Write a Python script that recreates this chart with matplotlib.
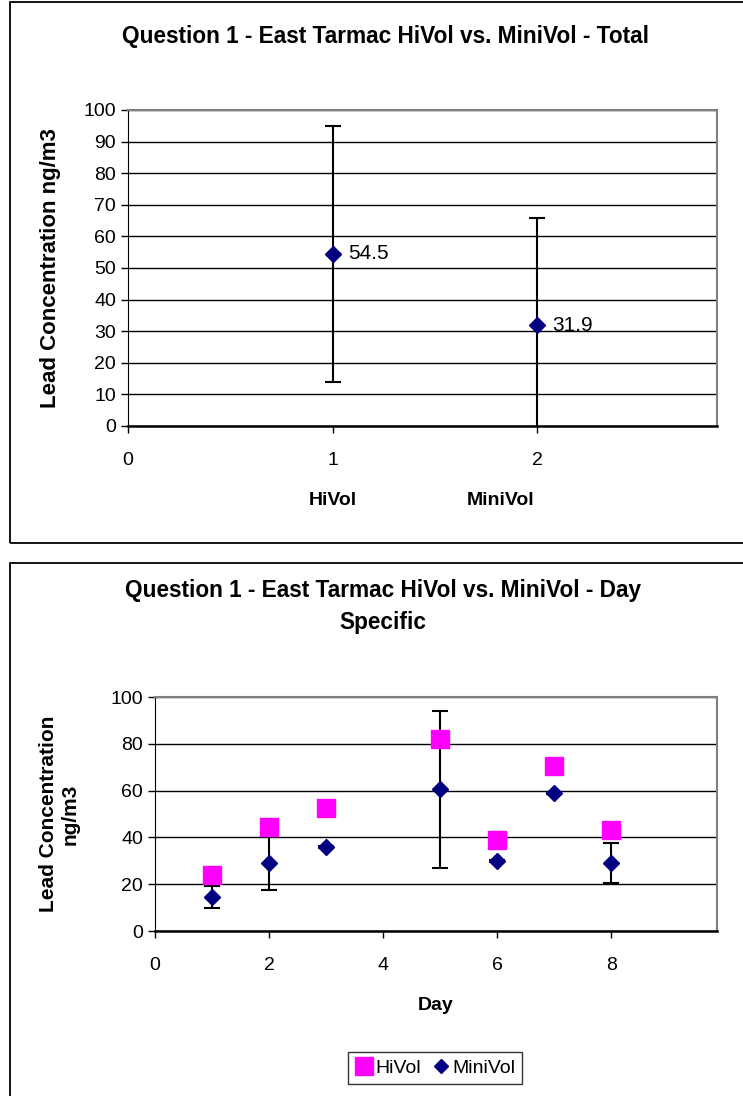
import matplotlib.pyplot as plt
from matplotlib.patches import Rectangle
from matplotlib.lines import Line2D

plt.rcParams['font.family'] = ['Liberation Sans', 'DejaVu Sans']

# top chart: totals
total_x = [1, 2]
total_mean = [54.5, 31.9]
total_err = [40.5, 34.0]
total_labels = ['54.5', '31.9']

# bottom chart: day specific
days = [1, 2, 3, 5, 6, 7, 8]
hivol = [24, 44.5, 52.5, 82, 39, 70.5, 43]
minivol = [14.5, 29, 36, 60.5, 30, 59, 29]
minivol_err = [4.7, 11.5, 0.4, 33.7, 0.3, 0.3, 8.5]

navy = '#000080'
magenta = '#FF00FF'
W, H = 743, 1096
fs = 14

fig = plt.figure(figsize=(W / 100, H / 100), dpi=100)

# chart frames
fig.patches.append(Rectangle((10 / W, 1 - 543 / H), 740 / W, 541 / H, transform=fig.transFigure,
                             fill=False, ec='black', lw=1.3))
fig.patches.append(Rectangle((10 / W, -0.01), 740 / W, (1096 - 563) / H + 0.01, transform=fig.transFigure,
                             fill=False, ec='black', lw=1.3))


def style_axes(ax):
    ax.grid(axis='y', color='black', lw=1)
    ax.set_axisbelow(True)
    for s in ['top', 'right']:
        ax.spines[s].set_color('#808080')
        ax.spines[s].set_linewidth(1.5)
    for s in ['left', 'bottom']:
        ax.spines[s].set_color('black')
    ax.spines['bottom'].set_linewidth(1.8)
    ax.tick_params(direction='out', length=5, labelsize=fs, width=1)


# ---- top chart ----
ax1 = fig.add_axes([128 / W, 1 - 426 / H, 589 / W, 316 / H])
ax1.errorbar(total_x, total_mean, yerr=total_err, fmt='D', color=navy, ms=8,
             ecolor='black', elinewidth=1.5, capsize=6, capthick=1.5, zorder=3)
for x, y, lab in zip(total_x, total_mean, total_labels):
    ax1.annotate(lab, (x, y), xytext=(11, 0), textcoords='offset points',
                 va='center', fontsize=15)
ax1.set_xlim(0, 2.88)
ax1.set_ylim(0, 100)
ax1.set_xticks([0, 1, 2])
ax1.set_yticks(range(0, 101, 10))
style_axes(ax1)
ax1.tick_params(axis='x', pad=14)
ax1.set_ylabel('Lead Concentration ng/m3', fontsize=16, fontweight='bold', labelpad=16)
ax1.text(1, -0.235, 'HiVol', transform=ax1.get_xaxis_transform(), ha='center', va='center',
         fontsize=fs, fontweight='bold')
ax1.text(1.82, -0.235, 'MiniVol', transform=ax1.get_xaxis_transform(), ha='center', va='center',
         fontsize=fs, fontweight='bold')
fig.text(385 / W, 1 - 37 / H, 'Question 1 - East Tarmac HiVol vs. MiniVol - Total',
         ha='center', va='center', fontsize=16.3, fontweight='bold')

# ---- bottom chart ----
ax2 = fig.add_axes([155 / W, 1 - 931 / H, 562 / W, 234 / H])
ax2.plot(days, hivol, 's', color=magenta, ms=13, zorder=4)
ax2.errorbar(days, minivol, yerr=minivol_err, fmt='D', color=navy, ms=8,
             ecolor='black', elinewidth=1.5, capsize=6, capthick=1.5, zorder=3)
ax2.set_xlim(0, 9.85)
ax2.set_ylim(0, 100)
ax2.set_xticks(range(0, 9, 2))
ax2.set_yticks(range(0, 101, 20))
style_axes(ax2)
ax2.tick_params(axis='x', pad=14)
ax2.set_ylabel('Lead Concentration\nng/m3', fontsize=15, fontweight='bold', labelpad=22)
ax2.set_xlabel('Day', fontsize=fs, fontweight='bold', labelpad=16)
fig.text(383 / W, 1 - 607 / H, 'Question 1 - East Tarmac HiVol vs. MiniVol - Day\nSpecific',
         ha='center', va='center', fontsize=16.3, fontweight='bold', linespacing=1.5)

handles = [Line2D([], [], marker='s', color=magenta, ls='none', ms=13),
           Line2D([], [], marker='D', color=navy, ls='none', ms=7)]
leg = fig.legend(handles, ['HiVol', 'MiniVol'], loc='center', bbox_to_anchor=(435 / W, 1 - 1068 / H),
                 ncol=2, frameon=True, fancybox=False, edgecolor='black', fontsize=fs,
                 handletextpad=0.1, columnspacing=0.5, handlelength=1.0, borderpad=0.35)
leg.get_frame().set_linewidth(1)

fig.savefig('out.png', dpi=100)
